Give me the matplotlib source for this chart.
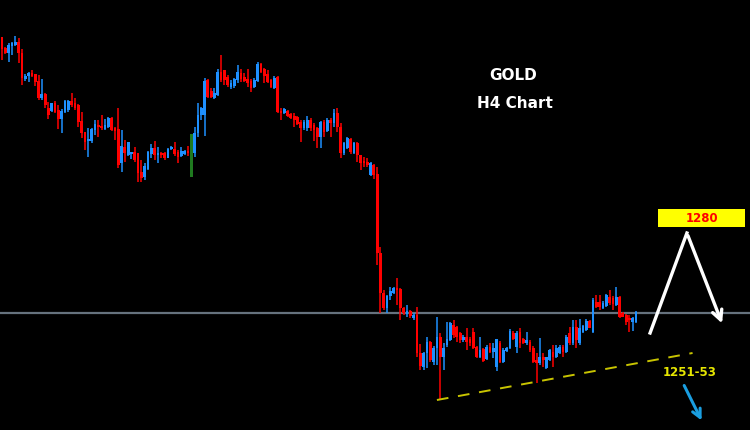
import matplotlib.pyplot as plt
from matplotlib.patches import Rectangle
import numpy as np

# ── H4 gold candles ───────────────────────────────────────────────────────────
opens = [1320.6, 1318.4, 1317.4, 1318.8, 1319.0, 1319.6, 1317.4, 1312.2, 1312.8, 1313.4,
         1313.2, 1311.8, 1308.4, 1309.2, 1306.4, 1305.8, 1307.4, 1306.0, 1304.2, 1305.6,
         1306.0, 1307.8, 1307.4, 1307.0, 1303.8, 1301.6, 1299.8, 1299.8, 1302.0, 1302.8,
         1302.8, 1302.2, 1302.6, 1304.4, 1302.4, 1302.2, 1295.4, 1298.6, 1297.0, 1297.2,
         1297.6, 1297.4, 1293.6, 1292.6, 1294.2, 1297.2, 1298.4, 1297.0, 1297.4, 1297.4,
         1296.4, 1298.2, 1298.2, 1297.6, 1296.8, 1297.2, 1297.8, 1292.6, 1297.4, 1301.4,
         1305.0, 1305.0, 1312.0, 1309.8, 1308.4, 1309.0, 1313.6, 1314.0, 1312.6, 1310.6,
         1310.8, 1312.0, 1313.4, 1312.6, 1312.2, 1311.8, 1310.6, 1311.8, 1315.2, 1314.2,
         1313.2, 1312.0, 1310.4, 1312.6, 1305.8, 1305.4, 1305.8, 1305.2, 1304.8, 1304.6,
         1303.6, 1302.4, 1302.4, 1304.0, 1303.0, 1302.4, 1300.6, 1303.6, 1301.8, 1304.0,
         1303.4, 1305.4, 1302.6, 1297.4, 1298.4, 1300.2, 1297.4, 1299.4, 1297.0, 1295.6,
         1295.6, 1293.0, 1295.0, 1293.2, 1277.4, 1269.4, 1266.4, 1268.8, 1269.4, 1270.4,
         1270.2, 1266.4, 1265.2, 1265.8, 1264.4, 1265.0, 1257.4, 1254.6, 1257.4, 1259.6,
         1255.6, 1258.4, 1260.6, 1256.6, 1259.0, 1260.0, 1263.0, 1262.6, 1261.4, 1260.0,
         1260.6, 1260.2, 1261.6, 1258.6, 1256.6, 1258.2, 1256.2, 1258.6, 1257.6, 1254.6,
         1259.4, 1255.6, 1257.8, 1258.4, 1261.4, 1258.6, 1261.6, 1260.2, 1259.4, 1259.6,
         1258.4, 1256.0, 1255.4, 1256.6, 1254.4, 1256.0, 1257.6, 1256.6, 1257.4, 1258.6,
         1257.6, 1261.4, 1259.4, 1262.6, 1259.4, 1261.6, 1262.0, 1263.8, 1261.6, 1267.6,
         1267.6, 1266.4, 1266.8, 1268.6, 1268.4, 1267.0, 1268.6, 1265.4, 1265.0, 1264.4,
         1263.6, 1263.6]
highs = [1320.6, 1318.6, 1319.4, 1319.6, 1320.8, 1320.4, 1318.2, 1313.2, 1313.6, 1314.0,
         1313.2, 1313.0, 1312.2, 1309.4, 1307.6, 1307.4, 1307.8, 1307.0, 1306.2, 1308.0,
         1308.0, 1309.4, 1308.4, 1307.2, 1305.6, 1301.6, 1302.4, 1302.4, 1304.0, 1304.0,
         1305.0, 1304.2, 1304.6, 1304.6, 1302.6, 1306.4, 1302.0, 1300.0, 1299.6, 1297.6,
         1298.6, 1297.4, 1296.0, 1295.4, 1297.8, 1299.2, 1299.8, 1298.6, 1297.6, 1297.6,
         1298.4, 1298.8, 1299.6, 1298.0, 1298.6, 1298.0, 1298.8, 1301.2, 1302.6, 1307.4,
         1306.6, 1312.4, 1312.2, 1310.4, 1310.4, 1314.2, 1317.0, 1314.0, 1313.0, 1312.0,
         1312.4, 1315.0, 1314.2, 1313.4, 1314.2, 1312.2, 1312.4, 1315.6, 1315.4, 1314.4,
         1314.0, 1312.2, 1312.8, 1312.8, 1306.4, 1306.4, 1306.0, 1305.4, 1305.4, 1304.8,
         1304.0, 1304.0, 1304.8, 1304.4, 1303.4, 1302.6, 1303.8, 1304.0, 1304.4, 1304.4,
         1306.2, 1306.4, 1303.4, 1299.6, 1300.6, 1300.4, 1299.6, 1299.6, 1297.0, 1296.6,
         1296.4, 1295.6, 1295.2, 1294.6, 1278.6, 1270.0, 1269.0, 1270.6, 1270.6, 1272.4,
         1270.4, 1266.6, 1267.0, 1266.0, 1265.4, 1266.6, 1259.2, 1257.6, 1260.6, 1259.8,
         1258.8, 1264.6, 1261.4, 1259.4, 1263.6, 1263.6, 1264.0, 1262.8, 1261.6, 1261.0,
         1262.4, 1260.6, 1262.4, 1258.8, 1260.6, 1258.4, 1259.0, 1259.4, 1259.4, 1260.2,
         1259.8, 1258.4, 1258.6, 1262.2, 1261.8, 1261.8, 1262.4, 1260.4, 1261.6, 1260.0,
         1258.8, 1257.4, 1260.4, 1257.4, 1256.6, 1258.2, 1259.0, 1259.0, 1259.0, 1259.0,
         1261.0, 1262.6, 1264.0, 1264.0, 1264.2, 1263.0, 1264.2, 1264.0, 1268.4, 1269.0,
         1269.0, 1267.8, 1269.2, 1270.0, 1268.8, 1270.6, 1268.8, 1265.6, 1265.2, 1265.0,
         1264.6, 1265.8]
lows = [1316.0, 1317.2, 1315.6, 1317.0, 1318.8, 1315.4, 1311.0, 1311.8, 1311.6, 1312.6,
        1310.8, 1308.0, 1308.0, 1306.4, 1304.2, 1305.6, 1305.4, 1302.2, 1301.4, 1305.4,
        1305.6, 1306.6, 1306.0, 1302.6, 1300.4, 1298.0, 1296.6, 1299.4, 1301.0, 1300.6,
        1302.0, 1302.0, 1302.4, 1301.8, 1300.0, 1294.4, 1293.6, 1295.6, 1296.8, 1296.2,
        1295.6, 1291.6, 1291.6, 1292.0, 1294.0, 1296.4, 1296.0, 1295.4, 1296.4, 1296.0,
        1296.4, 1298.0, 1296.8, 1295.4, 1296.6, 1297.0, 1296.8, 1292.6, 1296.6, 1300.6,
        1304.0, 1300.8, 1308.4, 1308.4, 1308.2, 1308.8, 1311.6, 1311.0, 1310.6, 1310.2,
        1310.4, 1311.4, 1311.6, 1311.6, 1310.6, 1309.6, 1310.4, 1311.6, 1313.4, 1311.4,
        1311.4, 1310.4, 1310.2, 1305.4, 1304.0, 1305.2, 1304.6, 1304.2, 1302.6, 1303.0,
        1299.6, 1302.0, 1301.8, 1301.8, 1299.8, 1298.4, 1298.4, 1300.6, 1301.6, 1300.6,
        1302.6, 1301.6, 1296.4, 1297.0, 1298.2, 1297.2, 1297.2, 1295.6, 1294.0, 1294.6,
        1294.6, 1292.8, 1292.2, 1275.0, 1265.4, 1266.0, 1265.4, 1268.0, 1269.2, 1267.0,
        1264.0, 1265.0, 1264.6, 1264.4, 1264.0, 1256.6, 1254.0, 1254.0, 1254.4, 1255.6,
        1255.0, 1255.0, 1248.2, 1254.0, 1258.6, 1259.8, 1260.4, 1259.6, 1259.4, 1259.6,
        1258.0, 1258.8, 1258.2, 1256.4, 1256.4, 1255.6, 1256.0, 1257.4, 1256.4, 1253.8,
        1255.4, 1255.4, 1257.6, 1258.2, 1260.0, 1257.4, 1258.4, 1259.2, 1259.0, 1257.6,
        1255.4, 1251.4, 1255.0, 1254.6, 1254.2, 1255.8, 1254.6, 1256.4, 1257.2, 1256.6,
        1257.4, 1259.0, 1259.0, 1258.4, 1259.0, 1261.4, 1261.8, 1262.4, 1261.4, 1266.4,
        1266.0, 1266.2, 1266.6, 1267.0, 1266.0, 1266.8, 1264.4, 1264.6, 1263.0, 1261.6,
        1261.8, 1263.4]
closes = [1318.2, 1317.4, 1319.0, 1319.4, 1319.6, 1317.4, 1312.4, 1312.8, 1313.4, 1312.8,
          1311.6, 1308.4, 1309.2, 1307.0, 1305.0, 1307.4, 1305.6, 1304.2, 1305.8, 1307.8,
          1307.8, 1307.0, 1306.4, 1303.6, 1301.4, 1299.6, 1300.0, 1302.2, 1303.2, 1302.6,
          1302.4, 1303.0, 1304.4, 1302.0, 1301.8, 1295.0, 1298.8, 1297.4, 1299.6, 1297.6,
          1296.0, 1293.4, 1292.4, 1294.8, 1297.6, 1298.4, 1297.0, 1297.4, 1297.0, 1296.4,
          1298.2, 1298.6, 1297.2, 1296.6, 1297.8, 1297.8, 1297.4, 1301.2, 1301.4, 1305.0,
          1306.4, 1311.8, 1308.6, 1308.6, 1309.4, 1313.6, 1312.0, 1312.0, 1311.0, 1311.4,
          1312.2, 1313.6, 1312.2, 1311.8, 1311.4, 1310.4, 1312.0, 1315.2, 1313.6, 1312.8,
          1311.6, 1310.6, 1312.4, 1305.6, 1305.4, 1306.2, 1304.8, 1304.4, 1304.0, 1303.2,
          1302.4, 1303.6, 1304.0, 1302.4, 1302.0, 1300.6, 1303.6, 1301.6, 1304.0, 1303.4,
          1305.4, 1302.6, 1297.4, 1299.4, 1300.4, 1297.6, 1299.4, 1297.0, 1295.4, 1295.4,
          1295.0, 1295.4, 1293.0, 1277.4, 1269.4, 1266.4, 1268.8, 1269.8, 1270.4, 1270.0,
          1266.4, 1265.4, 1265.8, 1264.8, 1265.0, 1257.4, 1254.8, 1257.4, 1259.6, 1256.0,
          1258.4, 1260.6, 1256.6, 1258.4, 1260.2, 1263.4, 1261.0, 1260.6, 1260.0, 1260.6,
          1259.6, 1259.4, 1258.4, 1256.6, 1258.0, 1255.8, 1258.6, 1257.6, 1258.4, 1260.2,
          1255.6, 1258.0, 1258.4, 1261.8, 1260.2, 1261.4, 1259.4, 1259.4, 1260.0, 1258.0,
          1255.6, 1255.4, 1256.6, 1256.0, 1256.6, 1258.0, 1256.6, 1258.4, 1258.6, 1257.6,
          1260.6, 1259.4, 1262.6, 1260.0, 1262.4, 1262.8, 1263.8, 1262.4, 1268.0, 1266.6,
          1266.6, 1267.4, 1269.0, 1267.4, 1267.2, 1268.6, 1264.6, 1264.6, 1263.6, 1264.0,
          1264.4, 1265.6]
green_bar = 57          # the single green candle

# ── Annotations ───────────────────────────────────────────────────────────────
level = 1265.4                       # horizontal line
trend_x = [131, 208]                 # dashed support line
trend_y = [1248.0, 1257.4]
zig_x = [195.2, 206.3, 217.2]        # white up/down path
zig_y = [1261.4, 1281.4, 1262.8]
down_x = [205.1, 211.1]              # blue breakdown arrow
down_y = [1251.4, 1243.4]
target_label = "1280"
support_label = "1251-53"
title_lines = ["GOLD", "H4 Chart"]

RED = "#ff0000"
BLUE = "#1e90ff"
GREEN = "#1f7a1f"

fig = plt.figure(figsize=(7.5, 4.3), dpi=100, facecolor="black")
ax = fig.add_axes([0, 0, 1, 1])
ax.set_facecolor("black")
ax.axis("off")

o = np.array(opens)
c = np.array(closes)
x = np.arange(len(o))
cols = np.where(c >= o, BLUE, RED).astype(object)
cols[green_bar] = GREEN

ax.vlines(x, lows, highs, colors=cols, linewidth=1.1, zorder=2)
body_lo = np.minimum(o, c)
body_h = np.maximum(np.abs(c - o), 0.35)
ax.bar(x, body_h, bottom=body_lo, width=0.82, color=cols, linewidth=0,
       antialiased=False, zorder=3)

ax.axhline(level, color="#66727e", linewidth=1.6, zorder=1)

ax.plot(trend_x, trend_y, color="#c8c400", linewidth=1.4, dashes=(6, 5), zorder=4)

ax.plot(zig_x[:2], zig_y[:2], color="white", linewidth=2.4, zorder=5)
ax.annotate("", xy=(zig_x[2], zig_y[2]), xytext=(zig_x[1], zig_y[1]),
            arrowprops=dict(arrowstyle="->,head_length=0.7,head_width=0.35",
                            color="white", lw=2.4), zorder=5)
ax.annotate("", xy=(down_x[1], down_y[1]), xytext=(down_x[0], down_y[0]),
            arrowprops=dict(arrowstyle="->,head_length=0.6,head_width=0.3",
                            color="#1a9ee0", lw=2.2), zorder=5)

ax.add_patch(Rectangle((197.6, 1282.6), 26.2, 3.6, facecolor="#ffff00",
                       edgecolor="none", zorder=6))
ax.text(210.7, 1284.4, target_label, color="#ff0000", fontsize=8.5,
        fontweight="bold", ha="center", va="center", zorder=7)
ax.text(207.2, 1253.4, support_label, color="#e6e600", fontsize=8.5,
        fontweight="bold", ha="center", va="center", zorder=7)

ax.text(153.9, 1313.0, title_lines[0], color="white", fontsize=11,
        fontweight="bold", ha="center", va="center")
ax.text(154.5, 1307.4, title_lines[1], color="white", fontsize=11,
        fontweight="bold", ha="center", va="center")

ax.set_xlim(-0.6, 225.3)
ax.set_ylim(1242, 1328)

fig.savefig("out.png", dpi=100, facecolor="black")
